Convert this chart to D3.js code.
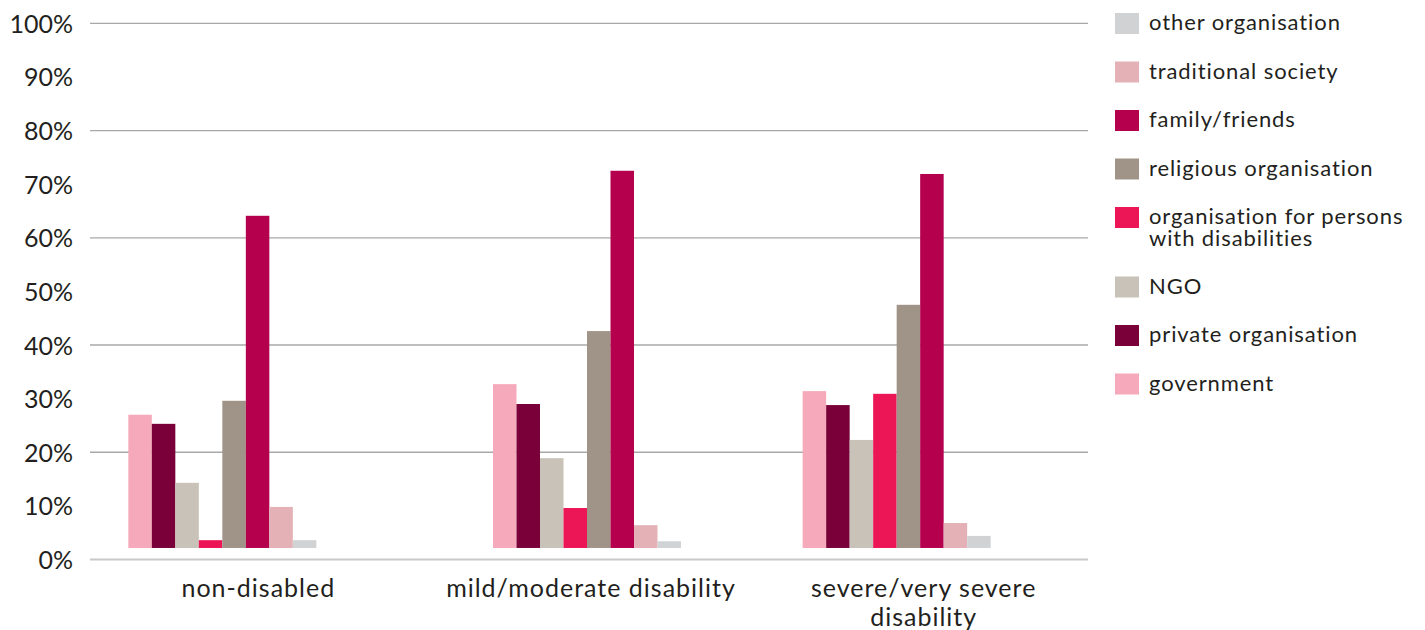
<!DOCTYPE html>
<html>
<head>
<meta charset="utf-8">
<script src="https://cdn.jsdelivr.net/npm/d3@7"></script>
<style>
  html, body { margin: 0; padding: 0; background: #fff; }
  svg { display: block; }
  text { font-family: "Lato", "DejaVu Sans", sans-serif; fill: #231f20; }
</style>
</head>
<body>
<svg id="chart" width="1425" height="630"></svg>
<script>
// ---------- DATA ----------
const categories = ["non-disabled", "mild/moderate disability", "severe/very severe disability"];
const categoryLines = [["non-disabled"], ["mild/moderate disability"], ["severe/very severe", "disability"]];
const seriesNames = ["government", "private organisation", "NGO",
  "organisation for persons with disabilities", "religious organisation",
  "family/friends", "traditional society", "other organisation"];
const legendLines = {
  "organisation for persons with disabilities": ["organisation for persons", "with disabilities"]
};
const government   = [27.0, 32.7, 31.4];
const privateOrg   = [25.3, 29.0, 28.8];
const ngo          = [14.3, 18.9, 22.3];
const disabilityOrg= [3.6, 9.6, 30.9];
const religious    = [29.6, 42.6, 47.5];
const family       = [64.1, 72.5, 71.9];
const traditional  = [9.8, 6.4, 6.8];
const otherOrg     = [3.6, 3.4, 4.4];
const seriesValues = [government, privateOrg, ngo, disabilityOrg, religious, family, traditional, otherOrg];
const yTicks = [0, 10, 20, 30, 40, 50, 60, 70, 80, 90, 100];
const gridTicks = [0, 20, 40, 60, 80, 100];

// ---------- STYLE / LAYOUT ----------
const colors = ["#f5a9bb", "#7a0039", "#c9c2b8", "#ec1556", "#a09488", "#b5004e", "#e4b1b7", "#d1d2d4"];
const groupOffset = [-34, -2, -25];   // layout nudge of each bar cluster within its band
const clusterWidth = 188;
const barFloor = 2.15;                // bars rest slightly above the 0% line

const svg = d3.select("#chart");
const x = d3.scaleBand().domain(categories).range([90, 1088]);
const y = d3.scaleLinear().domain([0, 100]).range([559.5, 23.3]);
const xInner = d3.scaleBand().domain(seriesNames).range([0, clusterWidth]).padding(0);

// grid lines
svg.append("g").selectAll("line").data(gridTicks).join("line")
  .attr("x1", 90).attr("x2", 1088)
  .attr("y1", d => y(d)).attr("y2", d => y(d))
  .attr("stroke", d => d === 0 ? "#c8c8c8" : "#a8a8a8")
  .attr("stroke-width", d => d === 0 ? 2 : 1.3);

// y axis labels
const yAxis = d3.axisLeft(y).tickValues(yTicks).tickFormat(d => d + "%").tickSize(0).tickPadding(0);
const gy = svg.append("g").attr("transform", "translate(73,0)").call(yAxis);
gy.select(".domain").remove();
gy.selectAll("text").attr("font-size", 25).attr("fill", "#231f20")
  .style("font-family", "Lato, 'DejaVu Sans', sans-serif").attr("dy", "0.36em");

// bars
const groups = svg.append("g").selectAll("g").data(categories).join("g")
  .attr("transform", (c, i) => `translate(${x(c) + x.bandwidth() / 2 - clusterWidth / 2 + groupOffset[i]},0)`);
groups.selectAll("rect").data((c, i) => seriesNames.map((s, k) => ({ s, k, v: seriesValues[k][i] })))
  .join("rect")
  .attr("x", d => xInner(d.s))
  .attr("width", xInner.bandwidth())
  .attr("y", d => y(d.v))
  .attr("height", d => y(barFloor) - y(d.v))
  .attr("fill", d => colors[d.k]);

// x labels
categories.forEach((c, i) => {
  categoryLines[i].forEach((line, j) => {
    svg.append("text").attr("text-anchor", "middle").attr("font-size", 25)
      .attr("letter-spacing", 1)
      .attr("x", x(c) + x.bandwidth() / 2 + 2).attr("y", 597 + j * 29).text(line);
  });
});

// legend (reverse order)
const legendOrder = seriesNames.map((s, k) => k).reverse();
let ly = 13;
legendOrder.forEach((k) => {
  const name = seriesNames[k];
  const lines = legendLines[name] || [name];
  svg.append("rect").attr("x", 1115).attr("y", ly).attr("width", 24).attr("height", 21).attr("fill", colors[k]);
  lines.forEach((line, j) => {
    svg.append("text").attr("x", 1149).attr("y", ly + 17 + j * 22)
      .attr("font-size", 22).attr("letter-spacing", 0.9).text(line);
  });
  ly += 48.5 + (lines.length - 1) * 21;
});
</script>
</body>
</html>
